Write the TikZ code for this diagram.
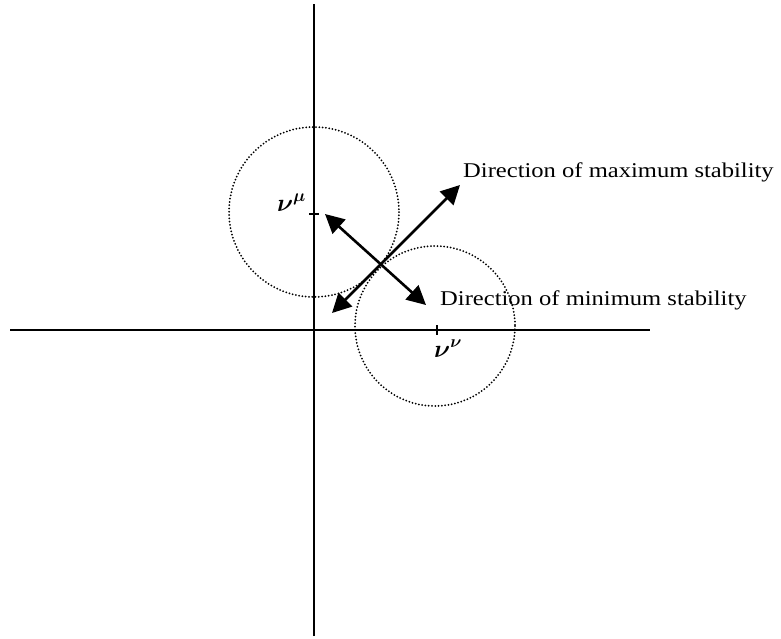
\documentclass[tikz,border=0pt]{standalone}
\usepackage{fontspec}
\usepackage{tikz}
\usetikzlibrary{arrows.meta}
\newfontfamily\labelfont[FakeStretch=1.17]{Liberation Serif}

\begin{document}
\begin{tikzpicture}[
        x=1pt, y=-1pt,
        axis_line/.style={line width=2.2pt, black},
        tick_mark/.style={line width=2.2pt, black},
        region_circle/.style={line width=2pt, dash pattern=on 0pt off 3.3pt, line cap=round, black},
        double_arrow/.style={arrows={Triangle[length=19pt, width=19pt]-Triangle[length=19pt, width=19pt]}, line width=2.6pt, black},
        label_text/.style={font=\labelfont\fontsize{21}{25}\selectfont, inner sep=0pt, anchor=base west},
        point_label/.style={font=\fontsize{25}{30}\selectfont\boldmath, inner sep=0pt}
    ]
        \useasboundingbox (0,0) rectangle (781,638);

        % Axes
        \coordinate (y_top) at (314, 4);
        \coordinate (y_bottom) at (314, 636);
        \coordinate (x_left) at (10, 330);
        \coordinate (x_right) at (650, 330);
        \draw [axis_line] (y_bottom) -- (y_top);
        \draw [axis_line] (x_left) -- (x_right);

        % Stability regions
        \coordinate (mu_center) at (314, 212);
        \coordinate (nu_center) at (435, 326);
        \draw [region_circle] (mu_center) circle (85);
        \draw [region_circle] (nu_center) circle (80);

        % Points on the axes
        \coordinate (mu_tick_l) at (309, 214);
        \coordinate (mu_tick_r) at (319, 214);
        \coordinate (nu_tick_t) at (437, 325);
        \coordinate (nu_tick_b) at (437, 335);
        \draw [tick_mark] (mu_tick_l) -- (mu_tick_r);
        \draw [tick_mark] (nu_tick_t) -- (nu_tick_b);
        \node (mu_label) at (306, 211) [point_label, anchor=base east] {$\nu^{\mu}$};
        \node (nu_label) at (434, 357) [point_label, anchor=base west] {$\nu^{\nu}$};

        % Directions
        \coordinate (max_start) at (332, 313);
        \coordinate (max_end) at (460, 185);
        \coordinate (min_start) at (325, 214);
        \coordinate (min_end) at (426, 305);
        \draw [double_arrow] (max_start) -- (max_end);
        \draw [double_arrow] (min_start) -- (min_end);

        \node (max_label) at (463, 177) [label_text] {Direction of maximum stability};
        \node (min_label) at (440, 305) [label_text] {Direction of minimum stability};

    \end{tikzpicture}
\end{document}
